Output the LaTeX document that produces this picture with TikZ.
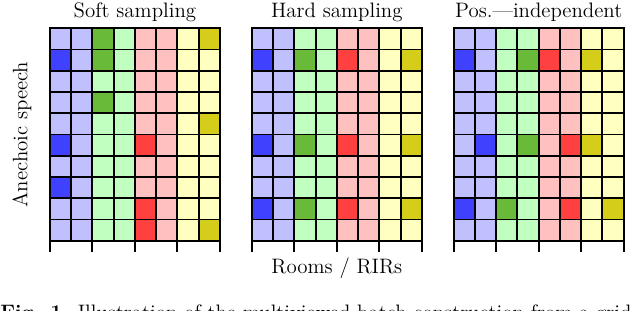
\documentclass[tikz,border=0pt]{standalone}
\usepackage{tikz}
\definecolor{lblue}{RGB}{192,192,255}
\definecolor{lgreen}{RGB}{192,255,192}
\definecolor{lred}{RGB}{255,192,192}
\definecolor{lyellow}{RGB}{255,255,192}
\definecolor{dblue}{RGB}{64,64,255}
\definecolor{dgreen}{RGB}{104,186,56}
\definecolor{dred}{RGB}{255,64,64}
\definecolor{dyellow}{RGB}{212,206,26}

% one batch grid: #1 = left edge, #2 = highlighted cells col/row/colour
\newcommand{\batchgrid}[2]{%
  \begin{scope}[shift={(#1,-1.33)}]
    \foreach \p/\lc in {0/lblue,1/lgreen,2/lred,3/lyellow}
      \fill[\lc] (2*\p,0) rectangle ++(2,-10);
    \foreach \c/\r/\dc in {#2}
      \fill[\dc] (\c-1,1-\r) rectangle ++(1,-1);
    \foreach \i in {0,...,10}
      \draw[gridline] (0,-\i) -- (8,-\i);
    \foreach \i in {0,...,8}
      \draw[gridline] (\i,0) -- (\i,-10);
    \foreach \i in {0,2,...,8}
      \draw[gridline] (\i,-10) -- (\i,-10.47);
  \end{scope}}

\begin{document}
\begin{tikzpicture}[x=0.5cm,y=0.5cm,
  gridline/.style={line width=1.3pt,line cap=rect},
  heading/.style={font=\fontsize{14}{17}\selectfont,inner sep=0pt}]
  \useasboundingbox (0,0) rectangle (30.118,-14.635);

  \batchgrid{2.35}{3/1/dgreen,8/1/dyellow,1/2/dblue,3/2/dgreen,3/4/dgreen,
    8/5/dyellow,1/6/dblue,5/6/dred,1/8/dblue,5/9/dred,5/10/dred,8/10/dyellow}
  \batchgrid{11.85}{1/2/dblue,3/2/dgreen,5/2/dred,8/2/dyellow,
    1/6/dblue,3/6/dgreen,5/6/dred,8/6/dyellow,
    1/9/dblue,3/9/dgreen,5/9/dred,8/9/dyellow}
  \batchgrid{21.35}{1/2/dblue,4/2/dgreen,5/2/dred,7/2/dyellow,
    2/6/dblue,4/6/dgreen,6/6/dred,7/6/dyellow,
    1/9/dblue,3/9/dgreen,6/9/dred,8/9/dyellow}

  \node[heading] (soft)   at (6.35,-0.56)  {Soft sampling};
  \node[heading] (hard)   at (15.85,-0.56) {Hard sampling};
  \node[heading] (posind) at (25.35,-0.56) {Pos.---independent};
  \node[heading,rotate=90] (speech) at (1.03,-6.33) {Anechoic speech};
  \node[heading] (rooms)  at (15.85,-12.62) {Rooms / RIRs};
  \node[heading,anchor=base west] (caption) at (0,-15.03)
    {\textbf{Fig. 1.} Illustration of the multiviewed batch construction from a grid};
\end{tikzpicture}
\end{document}
